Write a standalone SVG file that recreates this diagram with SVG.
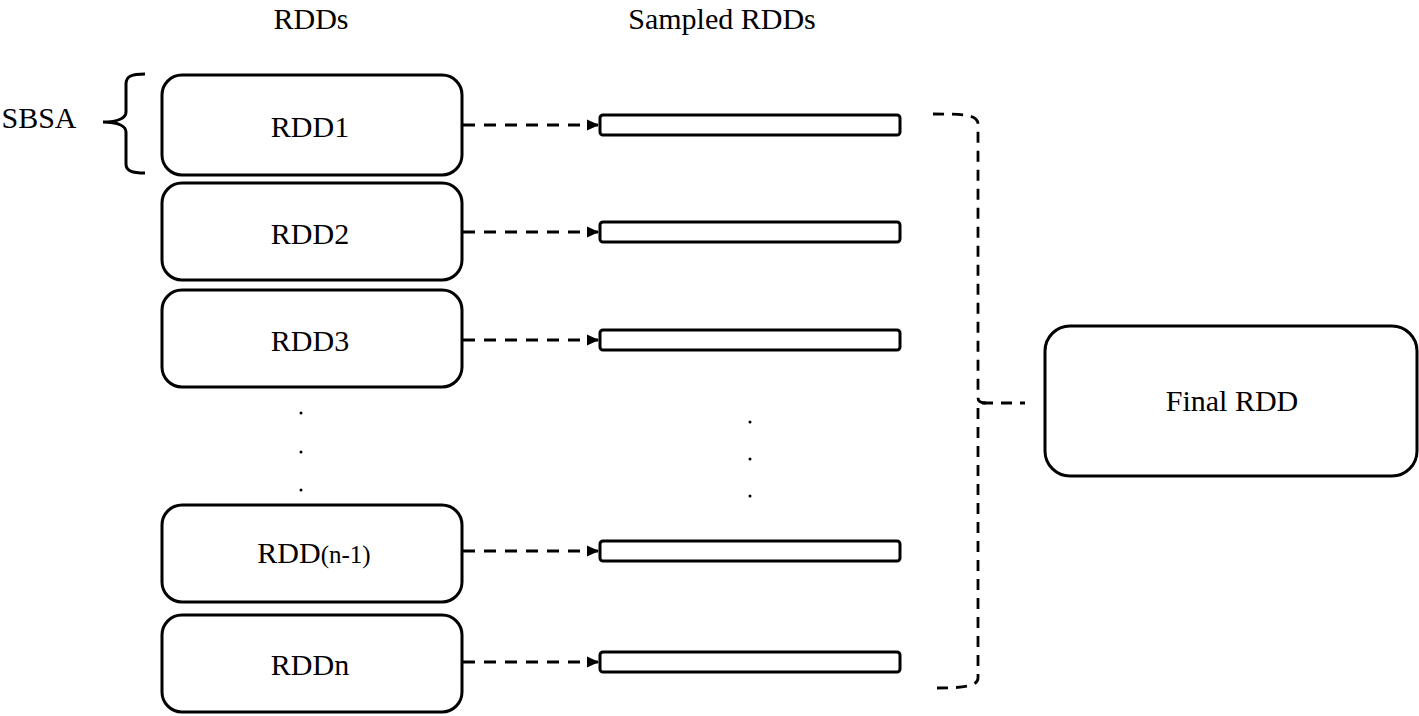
<svg xmlns="http://www.w3.org/2000/svg" width="1419" height="716" viewBox="0 0 1419 716">
<style>
.box{fill:#fff;stroke:#000;stroke-width:3}
.bar{fill:#fff;stroke:#000;stroke-width:3}
text{font-size:30px;fill:#000;text-anchor:middle}
.arr{fill:none;stroke:#000;stroke-width:3;stroke-dasharray:12 9}
.dash{fill:none;stroke:#000;stroke-width:2.8;stroke-dasharray:11 8}
</style>
<defs>
<marker id="ah" markerWidth="12" markerHeight="12" refX="11" refY="6" orient="auto" markerUnits="userSpaceOnUse">
<path d="M0,0.5 L12,6 L0,11.5 Z" fill="#000"/>
</marker>
</defs>
<rect width="1419" height="716" fill="#fff"/>
<g font-family="Liberation Serif, Times New Roman, serif">
<text x="311" y="29">RDDs</text>
<text x="722" y="29">Sampled RDDs</text>
<g id="sbsa">
<text x="39" y="128">SBSA</text>
<path d="M145,74 C132,74 126,76 126,84 L126,112 C126,118 118,122 103,122 C118,122 126,126 126,132 L126,164 C126,171 132,173 145,173" fill="none" stroke="#000" stroke-width="3"/>
</g>
<g id="rdd1"><rect class="box" x="162" y="75" width="300" height="100" rx="20"/><text x="310" y="137">RDD1</text></g>
<g id="rdd2"><rect class="box" x="162" y="183" width="300" height="97" rx="20"/><text x="310" y="244">RDD2</text></g>
<g id="rdd3"><rect class="box" x="162" y="290" width="300" height="97" rx="20"/><text x="310" y="351">RDD3</text></g>
<g id="rddn1"><rect class="box" x="162" y="505" width="300" height="97" rx="20"/><text x="314" y="563">RDD<tspan font-size="25">(n-1)</tspan></text></g>
<g id="rddn"><rect class="box" x="162" y="615" width="300" height="97" rx="20"/><text x="310" y="675">RDDn</text></g>
<g id="dots1" fill="#000"><circle cx="301" cy="413" r="1.5"/><circle cx="301" cy="452" r="1.5"/><circle cx="301" cy="490" r="1.5"/></g>
<g id="dots2" fill="#000"><circle cx="750" cy="422" r="1.5"/><circle cx="750" cy="459" r="1.5"/><circle cx="750" cy="496" r="1.5"/></g>
<g id="s1"><rect class="bar" x="600" y="115" width="300" height="20" rx="3"/></g>
<g id="s2"><rect class="bar" x="600" y="222" width="300" height="20" rx="3"/></g>
<g id="s3"><rect class="bar" x="600" y="330" width="300" height="20" rx="3"/></g>
<g id="s4"><rect class="bar" x="600" y="541" width="300" height="20" rx="3"/></g>
<g id="s5"><rect class="bar" x="600" y="652" width="300" height="20" rx="3"/></g>
<g id="final"><rect class="box" x="1045" y="326" width="372" height="150" rx="25"/><text x="1232" y="411">Final RDD</text></g>
</g>
<g id="connectors">
<path class="arr" d="M463,125 L598,125" marker-end="url(#ah)"/>
<path class="arr" d="M463,232 L598,232" marker-end="url(#ah)"/>
<path class="arr" d="M463,340 L598,340" marker-end="url(#ah)"/>
<path class="arr" d="M463,551 L598,551" marker-end="url(#ah)"/>
<path class="arr" d="M463,662 L598,662" marker-end="url(#ah)"/>
<path class="dash" d="M933,114 C960,114 978,114 978,124 L978,398 C978,402 982,403 986,403 M978,408 L978,678 C978,686 965,688 936,688"/>
<path class="dash" d="M982,403 L1025,403"/>
</g>
</svg>
